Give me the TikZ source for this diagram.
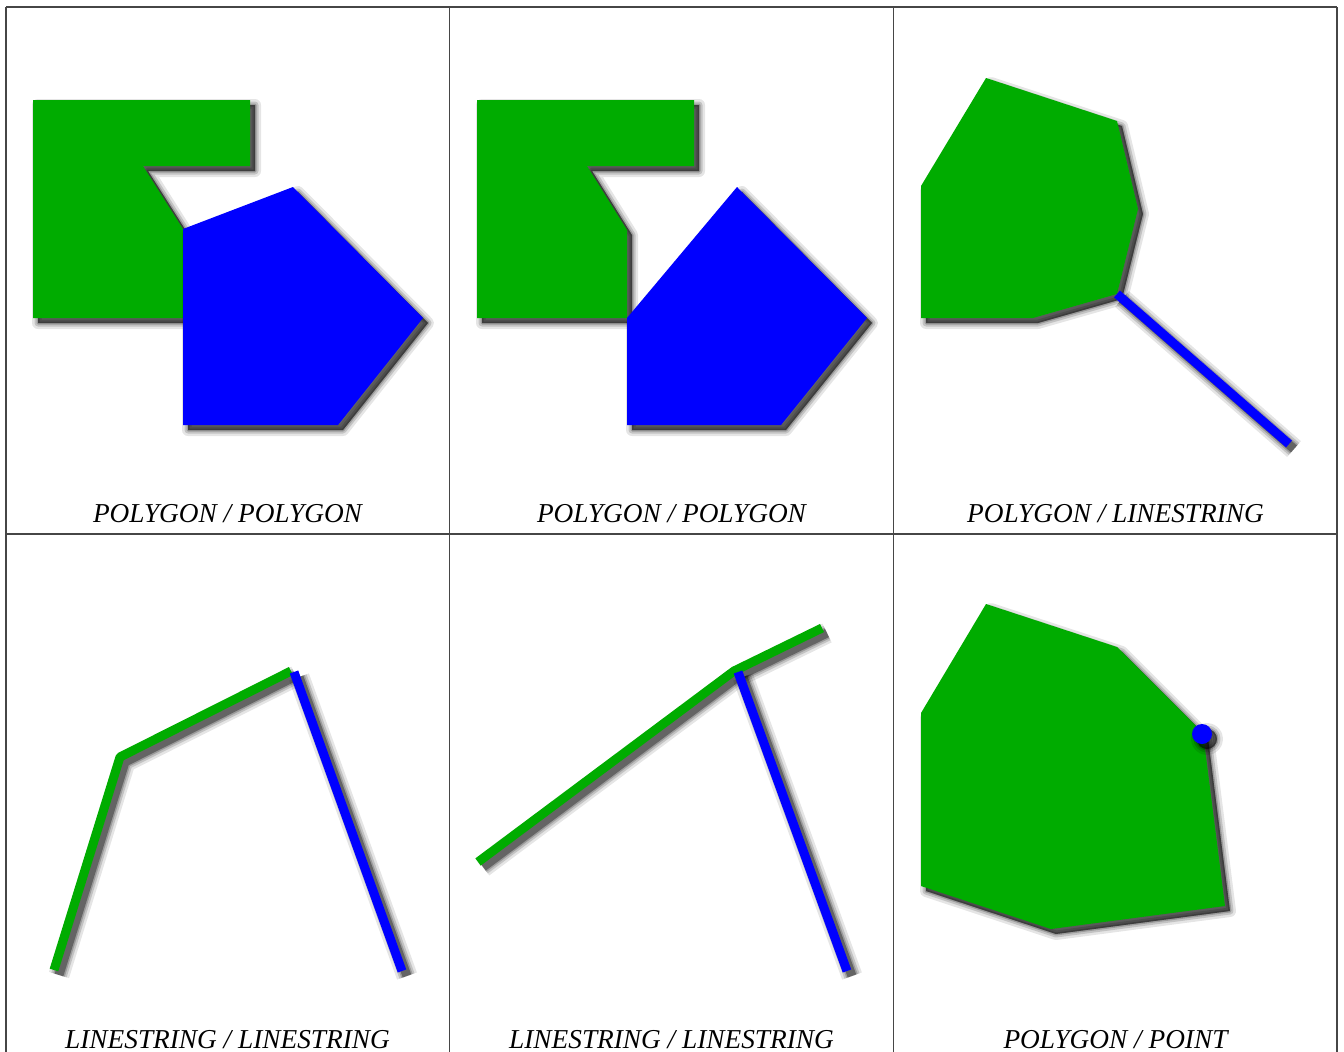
\documentclass[tikz,border=0pt]{standalone}
\usepackage{fontspec}
\setmainfont{Liberation Serif}
\usetikzlibrary{calc}
\definecolor{geomgreen}{RGB}{0,172,0}
\definecolor{geomblue}{RGB}{0,0,255}
\definecolor{gridgray}{RGB}{70,70,70}

\begin{document}
\begin{tikzpicture}[
    x=1pt, y=-1pt,
    font=\fontsize{27.3}{30}\selectfont\itshape,
    frame/.style      = {draw=gridgray, line width=1.4pt},
    polyshadow/.style = {preaction={fill=black, draw=black, opacity=.10, line width=12pt, line join=round,
                                    transform canvas={shift={(5pt,-5pt)}}},
                         preaction={fill=black, draw=black, opacity=.15, line width=7pt, line join=round,
                                    transform canvas={shift={(5pt,-5pt)}}},
                         preaction={fill=black, draw=black, opacity=.20, line width=3pt, line join=round,
                                    transform canvas={shift={(5pt,-5pt)}}},
                         preaction={fill=black, opacity=.35, transform canvas={shift={(5pt,-5pt)}}}},
    lineshadow/.style = {preaction={draw=black, opacity=.10, line width=21pt, line join=round,
                                    transform canvas={shift={(5pt,-5pt)}}},
                         preaction={draw=black, opacity=.15, line width=16pt, line join=round,
                                    transform canvas={shift={(5pt,-5pt)}}},
                         preaction={draw=black, opacity=.20, line width=12pt, line join=round,
                                    transform canvas={shift={(5pt,-5pt)}}},
                         preaction={draw=black, opacity=.35, line width=9pt, line join=round,
                                    transform canvas={shift={(5pt,-5pt)}}}},
    geompoly/.style   = {fill=#1, polyshadow},
    geomline/.style   = {draw=#1, line width=9pt, line join=round, lineshadow},
    caption/.style    = {anchor=base, inner sep=0pt},
]
\useasboundingbox (0,0) rectangle (1344,1052);
\fill[white] (0,0) rectangle (1344,1052);

% ---- polygon / polygon (overlapping) --------------------------------------
\fill[geompoly=geomgreen] (33,100) -- (250,100) -- (250,166) -- (143,166) -- (183,229)
    -- (183,318) -- (33,318) -- cycle;
\fill[geompoly=geomblue] (183,229) -- (293,187) -- (423,318) -- (338,425) -- (183,425) -- cycle;
\node[caption] (capa) at (227.5,522) {POLYGON / POLYGON};

% ---- polygon / polygon (touching) -----------------------------------------
\fill[geompoly=geomgreen] (477,100) -- (694,100) -- (694,166) -- (587,166) -- (627,230)
    -- (627,318) -- (477,318) -- cycle;
\fill[geompoly=geomblue] (627,318) -- (737,187) -- (867,318) -- (781,425) -- (627,425) -- cycle;
\node[caption] (capb) at (671.5,522) {POLYGON / POLYGON};

% ---- polygon / linestring -------------------------------------------------
\fill[geompoly=geomgreen] (921,186) -- (986,78) -- (1117,121) -- (1138,209) -- (1117,294)
    -- (1033,318) -- (921,318) -- cycle;
\draw[geomline=geomblue] (1117,294) -- (1289,444);
\node[caption] (capc) at (1115.5,522) {POLYGON / LINESTRING};

% ---- linestring / linestring (end point) ----------------------------------
\draw[geomline=geomgreen] (54,970) -- (120,757) -- (291,671);
\draw[geomline=geomblue] (294,672) -- (402,971);
\node[caption] (capd) at (227.5,1048.5) {LINESTRING / LINESTRING};

% ---- linestring / linestring (on vertex) ----------------------------------
\draw[geomline=geomgreen] (478,862) -- (734,671) -- (822,628);
\draw[geomline=geomblue] (738,672) -- (847,971);
\node[caption] (cape) at (671.5,1048.5) {LINESTRING / LINESTRING};

% ---- polygon / point ------------------------------------------------------
\fill[geompoly=geomgreen] (921,713) -- (986,604) -- (1117,647) -- (1203,733) -- (1225,906)
    -- (1051,929) -- (921,886) -- cycle;
\fill[geompoly=geomblue] (1202,734) circle (10);
\node[caption] (capf) at (1115.5,1048.5) {POLYGON / POINT};

% ---- table rules ----------------------------------------------------------
\draw[frame] (6,7) -- (1337,7);
\draw[frame] (6,534) -- (1337,534);
\foreach \gx in {6,449.5,893.5,1337}
  \draw[frame] (\gx,7) -- (\gx,1060);
\end{tikzpicture}
\end{document}
